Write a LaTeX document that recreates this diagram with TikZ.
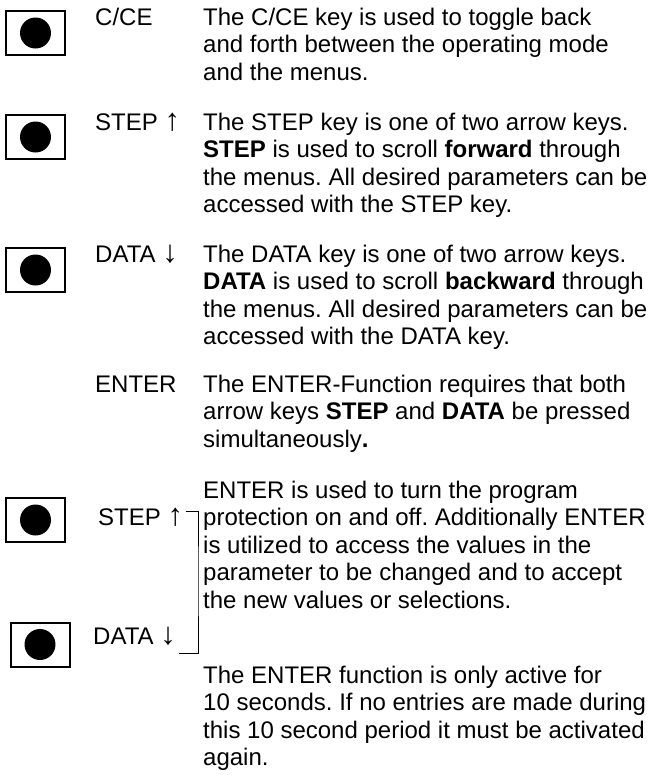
\documentclass[tikz,border=0pt]{standalone}
\usepackage{fontspec}
\setmainfont{Liberation Sans}
\usetikzlibrary{calc}

\newcommand{\uparr}{{\fontsize{31}{27.5}\selectfont ↑}}
\newcommand{\downarr}{{\fontsize{31}{27.5}\selectfont ↓}}

\begin{document}
\frenchspacing
\begin{tikzpicture}[x=1pt,y=-1pt,
		keybox/.style  = {draw, line width=2pt, minimum width=59pt, minimum height=44pt, inner sep=0pt,
			path picture={\fill (path picture bounding box.center) circle (15.5pt);}},
		keyname/.style = {anchor=base west, inner sep=0pt, font=\fontsize{24}{27.5}\selectfont},
		desc/.style    = {keyname, anchor=north west, align=left}]
		
		\useasboundingbox (0,0) rectangle (649,780);
		
		% Keys on the left
		\node[keybox] (k1) at (35.5,33) {};
		\node[keybox] (k2) at (35.5,137) {};
		\node[keybox] (k3) at (35.5,270) {};
		\node[keybox] (k4) at (35.5,520) {};
		\node[keybox] (k5) at (40,644.5) {};
		
		% Key names
		\node[keyname] (l1) at (95,25) {C/CE};
		\node[keyname] (l2) at (95,130) {STEP \uparr};
		\node[keyname] (l3) at (95,262) {DATA \downarr};
		\node[keyname] (l4) at (95,392) {ENTER};
		\node[keyname] (l5) at (98,525.5) {STEP \uparr};
		\node[keyname] (l6) at (93,644) {DATA \downarr};
		
		% Descriptions (top of first line = baseline - 17.2)
		\node[desc] (d1) at (203,7.8) {The C/CE key is used to toggle back\\
			and forth between the operating mode\\
			and the menus.};
		\node[desc] (d2) at (203,112.8) {The STEP key is one of two arrow keys.\\
			\textbf{STEP} is used to scroll \textbf{forward} through\\
			the menus. All desired parameters can be\\
			accessed with the STEP key.};
		\node[desc] (d3) at (203,244.8) {The DATA key is one of two arrow keys.\\
			\textbf{DATA} is used to scroll \textbf{backward} through\\
			the menus. All desired parameters can be\\
			accessed with the DATA key.};
		\node[desc] (d4) at (203,374.8) {The ENTER-Function requires that both\\
			arrow keys \textbf{STEP} and \textbf{DATA} be pressed\\
			simultaneously\textbf{.}};
		\node[desc] (d5) at (203,480.8) {ENTER is used to turn the program\\
			protection on and off. Additionally ENTER\\
			is utilized to access the values in the\\
			parameter to be changed and to accept\\
			the new values or selections.};
		\node[desc] (d6) at (203,665.8) {The ENTER function is only active for\\
			10 seconds. If no entries are made during\\
			this 10 second period it must be activated\\
			again.};
		
		% Bracket joining both arrow keys
		\coordinate (brk) at (198,580);
		\draw[line width=0.9pt] ($(l5.base east)+(3,-14)$) -| (brk) |- ($(l6.base east)+(3,9)$);
		
	\end{tikzpicture}
\end{document}
